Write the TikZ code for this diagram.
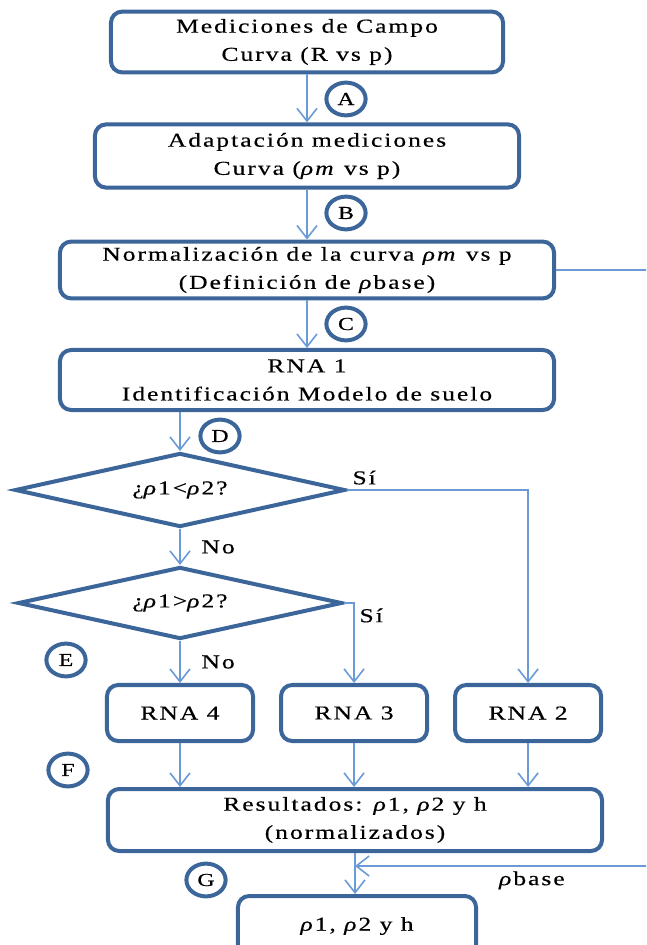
\documentclass[tikz,border=0pt]{standalone}
\usepackage{fontspec}
\setmainfont{Liberation Serif}[FakeStretch=1.3, LetterSpace=10, FakeBold=0.4]
\usetikzlibrary{shapes.geometric, arrows.meta, positioning}

\definecolor{boxblue}{HTML}{3C6699}
\definecolor{lineblue}{HTML}{6B9BD6}

\tikzset{
  flowbox/.style = {draw=boxblue, line width=0.1cm, rounded corners=0.28cm,
    align=center, inner sep=0pt, font=\fontsize{14}{20}\selectfont},
  decision/.style = {diamond, aspect=4.4, draw=boxblue, line width=0.1cm, inner sep=0pt,
    font=\fontsize{14}{18}\selectfont},
  tag/.style = {ellipse, draw=boxblue, line width=0.1cm, minimum width=0.98cm,
    minimum height=0.82cm, inner sep=0pt, font=\fontsize{13}{14}\selectfont},
  flow/.style = {draw=lineblue, line width=0.04cm,
    -{Straight Barb[length=0.32cm, width=0.5cm]}},
  lbl/.style = {font=\fontsize{14}{18}\selectfont}
}

\begin{document}
\begin{tikzpicture}[x=0.025cm, y=-0.025cm, node distance=4.35cm]
    \useasboundingbox (0,0) rectangle (646,945);
    \clip (0,0) rectangle (646,945);

    % columna principal
    \node [flowbox, minimum width=9.8cm, minimum height=1.52cm] (campo) at (307,42)
        {Mediciones de Campo\\Curva (R vs p)};
    \node [flowbox, minimum width=10.6cm, minimum height=1.58cm] (adapt) at (307,156)
        {Adaptación mediciones\\Curva (\textit{ρm} vs p)};
    \node [flowbox, minimum width=12.35cm, minimum height=1.42cm] (norm) at (307,270)
        {Normalización de la curva \textit{ρm} vs p\\(Definición de \textit{ρ}base)};
    \node [flowbox, minimum width=12.35cm, minimum height=1.5cm] (rna1) at (307,380)
        {RNA 1\\Identificación Modelo de suelo};

    % decisiones
    \node [decision, minimum width=8.25cm, minimum height=1.85cm] (menor) at (180,490)
        {¿\textit{ρ}1<\textit{ρ}2?};
    \node [decision, minimum width=8.1cm, minimum height=1.8cm] (mayor) at (180,603)
        {¿\textit{ρ}1>\textit{ρ}2?};

    % redes
    \node [flowbox, minimum width=3.65cm, minimum height=1.4cm] (rna4) at (180,713) {RNA 4};
    \node [flowbox, minimum width=3.65cm, minimum height=1.4cm, right of = rna4] (rna3) {RNA 3};
    \node [flowbox, minimum width=3.65cm, minimum height=1.4cm, right of = rna3] (rna2) {RNA 2};

    \node [flowbox, minimum width=12.35cm, minimum height=1.55cm] (res) at (355,820)
        {Resultados: \textit{ρ}1, \textit{ρ}2 y h\\(normalizados)};
    \node [flowbox, minimum width=5.95cm, minimum height=1.5cm] (fin) at (357,926)
        {\textit{ρ}1, \textit{ρ}2 y h};

    % etiquetas
    \node [tag] (tagA) at (346,99) {A};
    \node [tag] (tagB) at (346,213) {B};
    \node [tag] (tagC) at (346,324) {C};
    \node [tag] (tagD) at (220,436) {D};
    \node [tag] (tagE) at (66,660) {E};
    \node [tag] (tagF) at (68,770) {F};
    \node [tag] (tagG) at (206,880) {G};

    \coordinate (turn) at (660,866);
    \coordinate (join) at (355,866);

    % flechas
    \draw [flow] (campo.south) -- (adapt.north);
    \draw [flow] (adapt.south) -- (norm.north);
    \draw [flow] (norm.south) -- (rna1.north);
    \draw [flow] (rna1.south -| menor.north) -- (menor.north);
    \draw [flow] (menor.south) -- (mayor.north) node [lbl, midway, right=0.4cm] {No};
    \draw [flow] (mayor.south) -- (rna4.north) node [lbl, midway, right=0.4cm] {No};
    \draw [flow] (menor.east) -| (rna2.north) node [lbl, pos=0, above right] {Sí};
    \draw [flow] (mayor.east) -| (rna3.north) node [lbl, pos=0.5, below right] {Sí};
    \draw [flow] (rna4.south) -- (rna4.south |- res.north);
    \draw [flow] (rna3.south) -- (rna3.south |- res.north);
    \draw [flow] (rna2.south) -- (rna2.south |- res.north);
    \draw [flow] (res.south) -- (res.south |- fin.north);
    \draw [flow] (norm.east) -| (turn) -- (join)
        node [lbl, pos=0.42, below] {\textit{ρ}base};
\end{tikzpicture}
\end{document}
